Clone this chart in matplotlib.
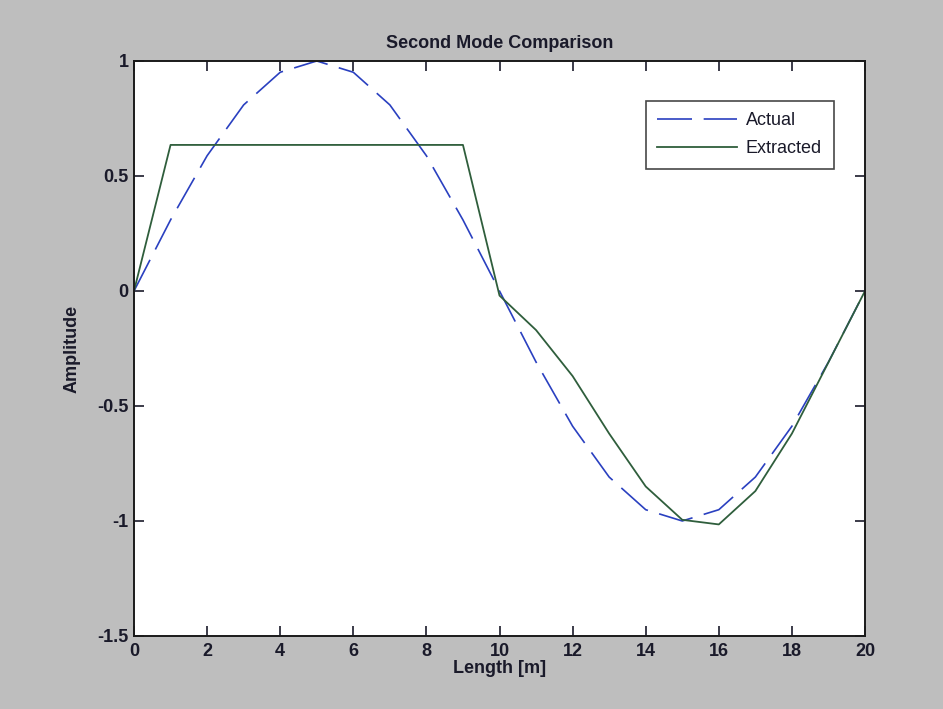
import numpy as np
import matplotlib.pyplot as plt

# mode shape samples along the beam
x_actual = [0, 1, 2, 3, 4, 5, 6, 7, 8, 9, 10, 11, 12, 13, 14, 15, 16, 17, 18, 19, 20]
y_actual = [0.0, 0.309, 0.588, 0.809, 0.951, 1.0, 0.951, 0.809, 0.588, 0.309, 0.0,
            -0.309, -0.588, -0.809, -0.951, -1.0, -0.951, -0.809, -0.588, -0.309, 0.0]

x_extr = [0, 1, 9, 10, 11, 12, 13, 14, 15, 16, 17, 18, 19, 20]
y_extr = [0.0, 0.635, 0.635, -0.02, -0.17, -0.37, -0.62, -0.85, -0.995, -1.015,
          -0.87, -0.62, -0.31, 0.0]

xticks = [0, 2, 4, 6, 8, 10, 12, 14, 16, 18, 20]
yticks = [-1.5, -1, -0.5, 0, 0.5, 1]

plt.rcParams['font.family'] = ['Liberation Sans', 'DejaVu Sans']

fig = plt.figure(figsize=(9.43, 7.09), dpi=100, facecolor='#bebebe')
ax = fig.add_axes([0.1421, 0.103, 0.7752, 0.811])
ax.set_facecolor('white')

ax.plot(x_actual, y_actual, color='#2a40c0', lw=1.2, dashes=(21, 7), label='Actual')
ax.plot(x_extr, y_extr, color='#2f5e3c', lw=1.3, label='Extracted')

ax.set_xlim(0, 20)
ax.set_ylim(-1.5, 1)
ax.set_xticks(xticks)
ax.set_yticks(yticks)
ax.set_yticklabels(['-1.5', '-1', '-0.5', '0', '0.5', '1'])
ax.tick_params(direction='in', length=7, width=1.2, top=True, right=True,
               labelsize=13, colors='#1a1a2a')
ax.tick_params(axis='x', pad=5)
ax.tick_params(axis='y', pad=4)
for lab in ax.get_xticklabels() + ax.get_yticklabels():
    lab.set_fontweight('bold')
for s in ax.spines.values():
    s.set_linewidth(1.4)
    s.set_color('#1a1a1a')

ax.set_title('Second Mode Comparison', fontsize=13, fontweight='bold',
             color='#1a1a2a', pad=9)
ax.set_xlabel('Length [m]', fontsize=13, fontweight='bold', color='#1a1a2a', labelpad=0)
ax.set_ylabel('Amplitude', fontsize=13, fontweight='bold', color='#1a1a2a', labelpad=12)

leg = ax.legend(loc='upper right', bbox_to_anchor=(0.957, 0.931), fontsize=13,
                frameon=True, fancybox=False, edgecolor='#1a1a1a', handlelength=4.4,
                borderpad=0.65, labelspacing=0.6, handletextpad=0.5, borderaxespad=0)
leg.get_frame().set_linewidth(1.2)
for t in leg.get_texts():
    t.set_color('#1a1a2a')

fig.savefig('out.png', dpi=100, facecolor=fig.get_facecolor())
